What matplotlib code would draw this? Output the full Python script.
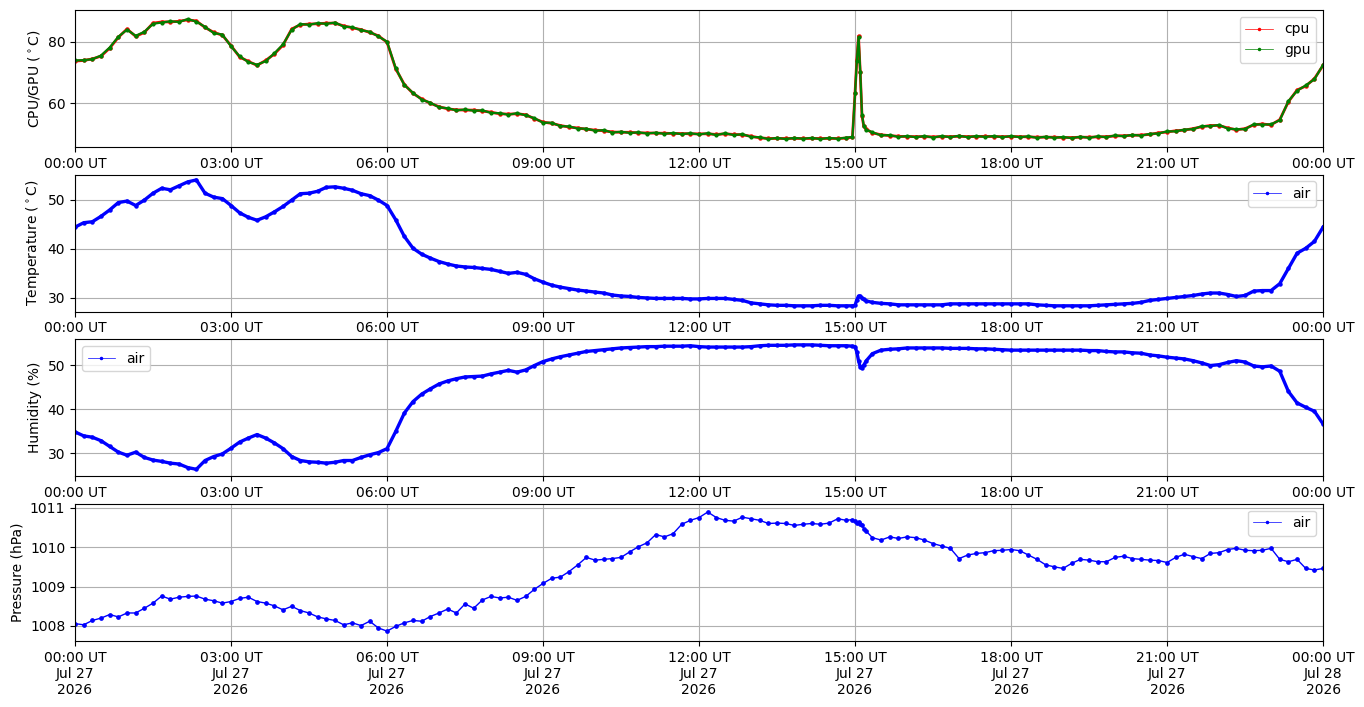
import numpy as np
import pandas as pd
import matplotlib
matplotlib.use('Agg')
import matplotlib.pyplot as plt
import matplotlib.dates as mdates
from matplotlib.lines import Line2D

# sample times (minutes after midnight), 10 min grid plus a few around the 15:00 spike
start = pd.Timestamp('2026-07-27 00:00')
minutes = sorted(list(range(0, 1441, 10)) + [897, 902, 904, 906, 908, 913])
times = start + pd.to_timedelta(minutes, unit='min')

cpu = [
    73.7, 73.9, 74.4, 75.3, 77.9, 81.4, 84.1, 81.7, 83.0, 86.0,
    86.4, 86.4, 86.6, 87.1, 86.7, 84.6, 83.0, 82.1, 78.7, 75.0,
    73.6, 72.3, 73.9, 76.0, 78.9, 84.1, 85.5, 85.7, 85.8, 86.0,
    86.0, 85.1, 84.5, 83.9, 83.0, 81.9, 79.8, 71.2, 66.1, 63.2,
    61.4, 60.0, 58.9, 58.2, 57.9, 57.8, 57.8, 57.5, 57.1, 56.6,
    56.5, 56.6, 56.3, 55.0, 53.9, 53.5, 52.8, 52.3, 52.0, 51.6,
    51.3, 51.1, 50.7, 50.6, 50.6, 50.4, 50.4, 50.3, 50.3, 50.2,
    50.2, 50.1, 50.1, 50.1, 49.9, 50.1, 49.9, 49.8, 49.3, 48.8,
    48.6, 48.6, 48.6, 48.6, 48.6, 48.6, 48.6, 48.6, 48.6, 48.7,
    49.0, 63.5, 74.0, 81.8, 70.0, 56.0, 52.6, 51.6,
    50.4, 49.8, 49.5, 49.3, 49.2, 49.2, 49.2, 49.1, 49.2, 49.2,
    49.3, 49.2, 49.2, 49.3, 49.2, 49.2, 49.2, 49.2, 49.1, 49.0,
    49.0, 49.0, 48.9, 48.9, 49.0, 49.0, 49.1, 49.2, 49.4, 49.5,
    49.6, 49.7, 49.9, 50.4, 50.7, 51.1, 51.3, 51.8, 52.4, 52.8,
    52.8, 52.0, 51.4, 51.8, 53.0, 53.3, 53.0, 54.7, 60.5, 64.3,
    65.6, 68.0, 72.3,
]
gpu = [
    73.9, 74.0, 74.3, 75.5, 78.1, 81.6, 83.9, 81.9, 83.2, 85.8,
    86.2, 86.6, 86.4, 87.3, 86.5, 84.8, 82.8, 82.3, 78.5, 75.2,
    73.4, 72.5, 73.7, 76.2, 79.1, 83.9, 85.7, 85.5, 86.0, 85.8,
    86.2, 84.9, 84.7, 83.7, 83.2, 81.7, 80.0, 71.4, 65.9, 63.4,
    61.2, 60.2, 58.7, 58.4, 57.7, 58.0, 57.6, 57.7, 56.9, 56.8,
    56.3, 56.8, 56.1, 55.2, 53.7, 53.7, 52.6, 52.5, 51.8, 51.8,
    51.1, 51.3, 50.5, 50.8, 50.4, 50.6, 50.2, 50.5, 50.1, 50.4,
    50.0, 50.3, 49.9, 50.3, 49.7, 50.3, 49.7, 50.0, 49.1, 49.0,
    48.4, 48.8, 48.4, 48.8, 48.5, 48.8, 48.4, 48.8, 48.5, 48.9,
    49.1, 63.2, 73.7, 81.5, 70.3, 56.3, 52.8, 51.4,
    50.6, 49.6, 49.7, 49.1, 49.4, 49.0, 49.4, 48.9, 49.4, 49.0,
    49.5, 49.0, 49.4, 49.1, 49.4, 49.0, 49.4, 49.0, 49.3, 48.8,
    49.2, 48.8, 49.1, 48.7, 49.2, 48.8, 49.3, 49.0, 49.6, 49.3,
    49.8, 49.5, 50.1, 50.2, 50.9, 50.9, 51.5, 51.6, 52.6, 52.6,
    53.0, 51.8, 51.6, 51.6, 53.2, 53.1, 53.2, 54.5, 60.7, 64.1,
    65.8, 67.8, 72.5,
]
air_temp = [
    44.4, 45.3, 45.5, 46.6, 47.9, 49.4, 49.7, 48.8, 49.9, 51.3,
    52.3, 52.0, 52.8, 53.6, 54.0, 51.3, 50.5, 50.2, 48.8, 47.3,
    46.4, 45.8, 46.5, 47.5, 48.6, 49.9, 51.2, 51.3, 51.7, 52.5,
    52.6, 52.3, 51.9, 51.2, 50.8, 49.9, 48.8, 45.9, 42.5, 40.1,
    38.9, 38.1, 37.4, 36.9, 36.5, 36.3, 36.2, 36.0, 35.8, 35.4,
    35.0, 35.2, 34.8, 33.9, 33.2, 32.6, 32.2, 31.9, 31.6, 31.4,
    31.2, 31.0, 30.6, 30.4, 30.3, 30.1, 30.0, 29.9, 29.9, 29.9,
    29.9, 29.8, 29.8, 29.9, 29.9, 29.9, 29.7, 29.5, 29.0, 28.8,
    28.6, 28.5, 28.5, 28.4, 28.4, 28.4, 28.5, 28.5, 28.4, 28.4,
    28.4, 28.5, 29.6, 30.4, 30.3, 30.0, 29.7, 29.4,
    29.1, 28.9, 28.8, 28.6, 28.6, 28.6, 28.6, 28.6, 28.6, 28.8,
    28.8, 28.8, 28.8, 28.8, 28.8, 28.8, 28.8, 28.8, 28.8, 28.6,
    28.5, 28.4, 28.4, 28.4, 28.4, 28.4, 28.5, 28.6, 28.7, 28.8,
    28.9, 29.1, 29.5, 29.7, 29.9, 30.1, 30.3, 30.5, 30.8, 31.0,
    31.0, 30.7, 30.3, 30.5, 31.4, 31.5, 31.5, 32.9, 36.0, 39.1,
    40.1, 41.5, 44.4,
]
air_hum = [
    34.8, 33.9, 33.6, 32.8, 31.5, 30.2, 29.5, 30.2, 29.0, 28.4,
    28.1, 27.7, 27.5, 26.7, 26.3, 28.3, 29.2, 29.8, 31.1, 32.5,
    33.4, 34.2, 33.4, 32.3, 31.0, 29.2, 28.3, 28.0, 27.9, 27.7,
    27.9, 28.3, 28.3, 29.0, 29.6, 30.1, 31.0, 34.9, 39.1, 41.7,
    43.4, 44.6, 45.7, 46.4, 46.9, 47.3, 47.4, 47.5, 48.0, 48.4,
    48.8, 48.4, 48.9, 49.9, 50.8, 51.4, 51.9, 52.3, 52.7, 53.1,
    53.3, 53.5, 53.7, 53.9, 54.0, 54.1, 54.2, 54.2, 54.3, 54.3,
    54.3, 54.4, 54.2, 54.1, 54.1, 54.1, 54.1, 54.1, 54.2, 54.4,
    54.5, 54.5, 54.5, 54.6, 54.6, 54.6, 54.5, 54.4, 54.4, 54.4,
    54.3, 54.2, 53.0, 51.0, 49.6, 49.3, 50.0, 51.0,
    52.6, 53.4, 53.6, 53.7, 53.9, 53.9, 53.9, 53.9, 53.9, 53.8,
    53.8, 53.8, 53.7, 53.7, 53.6, 53.5, 53.4, 53.4, 53.4, 53.4,
    53.4, 53.4, 53.4, 53.4, 53.4, 53.3, 53.3, 53.1, 53.0, 53.0,
    52.8, 52.7, 52.3, 52.1, 51.8, 51.6, 51.4, 51.0, 50.5, 49.9,
    50.1, 50.6, 51.0, 50.7, 49.8, 49.6, 49.8, 48.6, 44.0, 41.4,
    40.4, 39.5, 36.6,
]
air_pres = [
    1008.06, 1008.03, 1008.14, 1008.20, 1008.29, 1008.23, 1008.33, 1008.33, 1008.45, 1008.58,
    1008.76, 1008.68, 1008.73, 1008.75, 1008.76, 1008.68, 1008.64, 1008.58, 1008.62, 1008.70,
    1008.73, 1008.62, 1008.58, 1008.51, 1008.41, 1008.50, 1008.39, 1008.33, 1008.23, 1008.18,
    1008.14, 1008.03, 1008.08, 1008.01, 1008.12, 1007.95, 1007.87, 1007.99, 1008.08, 1008.14,
    1008.12, 1008.24, 1008.33, 1008.43, 1008.33, 1008.56, 1008.45, 1008.66, 1008.75, 1008.71,
    1008.73, 1008.65, 1008.75, 1008.93, 1009.08, 1009.21, 1009.24, 1009.38, 1009.55, 1009.74,
    1009.67, 1009.69, 1009.71, 1009.74, 1009.88, 1010.01, 1010.11, 1010.32, 1010.26, 1010.34,
    1010.58, 1010.68, 1010.75, 1010.89, 1010.75, 1010.68, 1010.66, 1010.76, 1010.72, 1010.68,
    1010.60, 1010.61, 1010.60, 1010.55, 1010.58, 1010.60, 1010.58, 1010.61, 1010.72, 1010.68,
    1010.70, 1010.66, 1010.62, 1010.65, 1010.58, 1010.55, 1010.47, 1010.40,
    1010.24, 1010.18, 1010.26, 1010.22, 1010.26, 1010.24, 1010.18, 1010.09, 1010.03, 1009.97,
    1009.71, 1009.80, 1009.84, 1009.86, 1009.91, 1009.92, 1009.94, 1009.91, 1009.80, 1009.69,
    1009.55, 1009.50, 1009.46, 1009.59, 1009.69, 1009.67, 1009.63, 1009.63, 1009.74, 1009.77,
    1009.71, 1009.69, 1009.67, 1009.66, 1009.61, 1009.74, 1009.82, 1009.76, 1009.71, 1009.84,
    1009.86, 1009.94, 1009.97, 1009.92, 1009.91, 1009.92, 1009.97, 1009.69, 1009.63, 1009.69,
    1009.46, 1009.42, 1009.46,
]

# set up figure
fig, axes = plt.subplots(4, 1, figsize=(13.64, 7.07), dpi=100)
plt.subplots_adjust(left=0.055, right=0.97, top=0.986, bottom=0.0934, hspace=0.2)

# the original logs are dense, so draw the coarse samples a bit heavier
axes[0].plot(times, cpu, color='red', marker='o', markersize=2.2, linewidth=2.0)
axes[0].plot(times, gpu, color='green', marker='o', markersize=2.0, linewidth=1.6)
axes[1].plot(times, air_temp, color='blue', marker='o', markersize=2.2, linewidth=2.4)
axes[2].plot(times, air_hum, color='blue', marker='o', markersize=2.2, linewidth=2.4)
axes[3].plot(times, air_pres, color='blue', marker='o', markersize=2.4, linewidth=1.0)

# legend handles in the thin original style
def handle(color):
    return Line2D([], [], color=color, marker='o', markersize=1.5, linewidth=0.5)

axes[0].legend([handle('red'), handle('green')], ['cpu', 'gpu'], loc='upper right')
axes[1].legend([handle('blue')], ['air'], loc='upper right')
axes[2].legend([handle('blue')], ['air'], loc='upper left')
axes[3].legend([handle('blue')], ['air'], loc='upper right')

# labels and limits
axes[0].set_ylabel(r'CPU/GPU ($^\circ$C)')
axes[1].set_ylabel(r'Temperature ($^\circ$C)')
axes[2].set_ylabel('Humidity (%)')
axes[3].set_ylabel('Pressure (hPa)')
axes[0].set_ylim(45.8, 90.3)
axes[1].set_ylim(27.2, 55.1)
axes[2].set_ylim(24.7, 55.9)
axes[3].set_ylim(1007.62, 1011.1)

for i, ax in enumerate(axes):
    ax.set_xlim(start, start + pd.Timedelta(days=1))
    ax.xaxis.set_major_locator(mdates.HourLocator(byhour=range(0, 24, 3)))
    if i < 3:
        ax.xaxis.set_major_formatter(mdates.DateFormatter('%H:%M UT'))
    else:
        ax.xaxis.set_major_formatter(mdates.DateFormatter('%H:%M UT\n%b %d\n%Y'))
    ax.grid(True)

plt.savefig('out.png', dpi=100)
